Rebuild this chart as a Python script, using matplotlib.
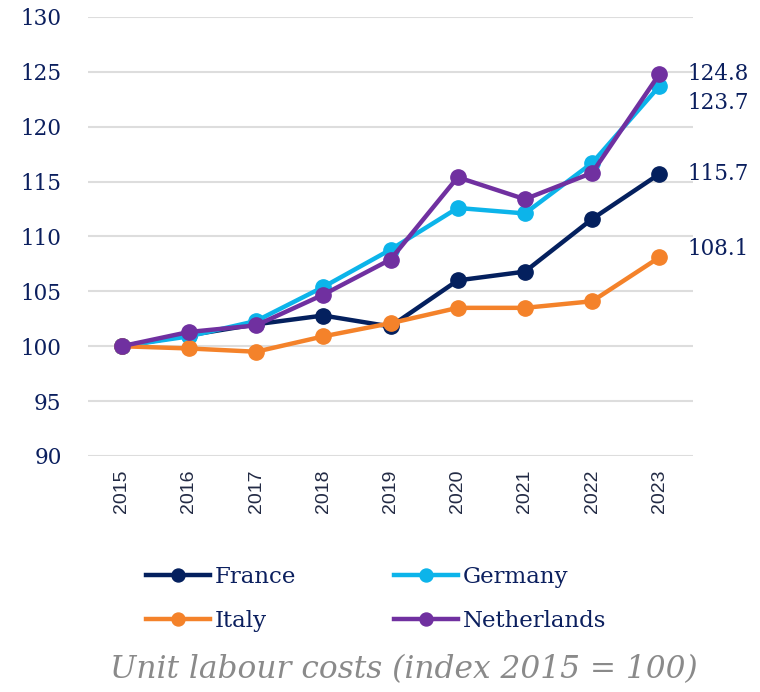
import numpy as np
import matplotlib
matplotlib.use('Agg')
import matplotlib.pyplot as plt

years = ['2015', '2016', '2017', '2018', '2019', '2020', '2021', '2022', '2023']
france = [100, 101.0, 102.0, 102.8, 101.8, 106.0, 106.8, 111.6, 115.7]
germany = [100, 100.9, 102.3, 105.4, 108.8, 112.6, 112.1, 116.7, 123.7]
italy = [100, 99.8, 99.5, 100.9, 102.1, 103.5, 103.5, 104.1, 108.1]
netherlands = [100, 101.3, 101.9, 104.7, 107.9, 115.4, 113.4, 115.8, 124.8]

navy = '#0b1f5e'
serif = ['DejaVu Serif']

fig = plt.figure(figsize=(7.6, 6.92), dpi=100)
ax = fig.add_axes([88/760, 1 - 456/692, (693-88)/760, (456-17)/692])

x = np.arange(len(years))
series = [('France', france, '#04205e'), ('Germany', germany, '#0cb4ea'),
          ('Italy', italy, '#f4822a'), ('Netherlands', netherlands, '#7030a0')]
lines = {}
for name, vals, col in series:
    lines[name], = ax.plot(x, vals, '-o', color=col, lw=3.2, ms=11, label=name)

# end labels
offsets = {'Netherlands': 0, 'Germany': -1.5, 'France': 0, 'Italy': 0.8}
for name, vals, col in series:
    ax.text(x[-1] + 0.42, vals[-1] + offsets[name], f'{vals[-1]:.1f}',
            va='center', ha='left', fontsize=15.5, color=navy, family=serif,
            clip_on=False)

ax.set_xlim(-0.5, 8.5)
ax.set_ylim(90, 130)
ax.set_yticks(range(90, 131, 5))
ax.set_xticks(x)
ax.set_xticklabels(years, rotation=90, fontsize=14, color='#222a44',
                   family=['Liberation Sans', 'DejaVu Sans'])
for lab in ax.get_yticklabels():
    lab.set_fontsize(15.5)
    lab.set_color(navy)
    lab.set_family(serif)
ax.tick_params(axis='y', length=0, pad=19)
ax.tick_params(axis='x', length=0, pad=10)
ax.grid(axis='y', color='#dddddd', lw=1.5)
ax.set_axisbelow(True)
for s in ax.spines.values():
    s.set_visible(False)

# column-wise fill: France/Italy in col 1, Germany/Netherlands in col 2
handles = [lines['France'], lines['Italy'], lines['Germany'], lines['Netherlands']]
fig.legend(handles, [h.get_label() for h in handles], ncol=2,
           loc='center', bbox_to_anchor=(376/760, 1 - 599/692),
           frameon=False, prop={'family': serif, 'size': 16.5},
           handlelength=2.8, handletextpad=0.2, columnspacing=4.3,
           labelspacing=1.0, labelcolor=navy, markerscale=0.85)

fig.text(404/760, 1 - 670/692, 'Unit labour costs (index 2015 = 100)',
         ha='center', va='center', fontsize=22.5, style='italic',
         color='#8a8a8a', family=serif)

fig.savefig('out.png', dpi=100)
